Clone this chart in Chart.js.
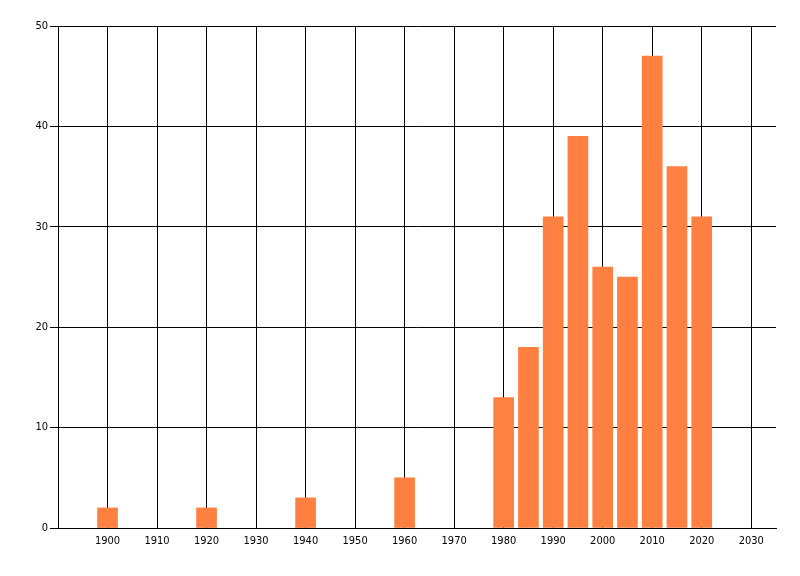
<!DOCTYPE html>
<html>
<head>
<meta charset="utf-8">
<script src="https://cdn.jsdelivr.net/npm/chart.js@4"></script>
<style>
html,body{margin:0;padding:0;background:#fff;}
#wrap{width:800px;height:576px;}
</style>
</head>
<body>
<div id="wrap"><canvas id="c" width="800" height="576"></canvas></div>
<script>
const years = [1900, 1920, 1940, 1960, 1980, 1985, 1990, 1995, 2000, 2005, 2010, 2015, 2020];
const counts = [2, 2, 3, 5, 13, 18, 31, 39, 26, 25, 47, 36, 31];
const xTickLabels = [1900, 1910, 1920, 1930, 1940, 1950, 1960, 1970, 1980, 1990, 2000, 2010, 2020, 2030];
const yTickLabels = [0, 10, 20, 30, 40, 50];

const font = {family: 'Tahoma, "DejaVu Sans Condensed", "Liberation Sans", sans-serif', size: 11};

new Chart(document.getElementById('c'), {
  type: 'bar',
  data: {
    datasets: [{
      data: years.map((y, i) => ({x: y, y: counts[i]})),
      backgroundColor: 'rgb(255,128,64)',
      borderWidth: 0,
      barThickness: 20
    }]
  },
  options: {
    responsive: false,
    animation: false,
    devicePixelRatio: 1,
    layout: {padding: {top: 26, right: 24, left: 0, bottom: 0}},
    plugins: {legend: {display: false}, tooltip: {enabled: false}},
    scales: {
      x: {
        type: 'linear',
        offset: false,
        min: 1890,
        max: 2035,
        afterBuildTicks: s => { s.ticks = xTickLabels.map(v => ({value: v})); },
        afterFit: s => { s.height = 48; },
        ticks: {color: '#000', font: font, padding: 7, maxRotation: 0, autoSkip: false, callback: v => String(v)},
        grid: {color: '#000', lineWidth: 1, drawTicks: false, offset: false},
        border: {color: '#000', width: 1}
      },
      y: {
        min: 0,
        max: 50,
        afterBuildTicks: s => { s.ticks = yTickLabels.map(v => ({value: v})); },
        afterFit: s => { s.width = 58; },
        ticks: {color: '#000', font: font, padding: 2},
        grid: {color: '#000', lineWidth: 1, drawTicks: true, tickLength: 8},
        border: {color: '#000', width: 1}
      }
    }
  }
});
</script>
</body>
</html>
